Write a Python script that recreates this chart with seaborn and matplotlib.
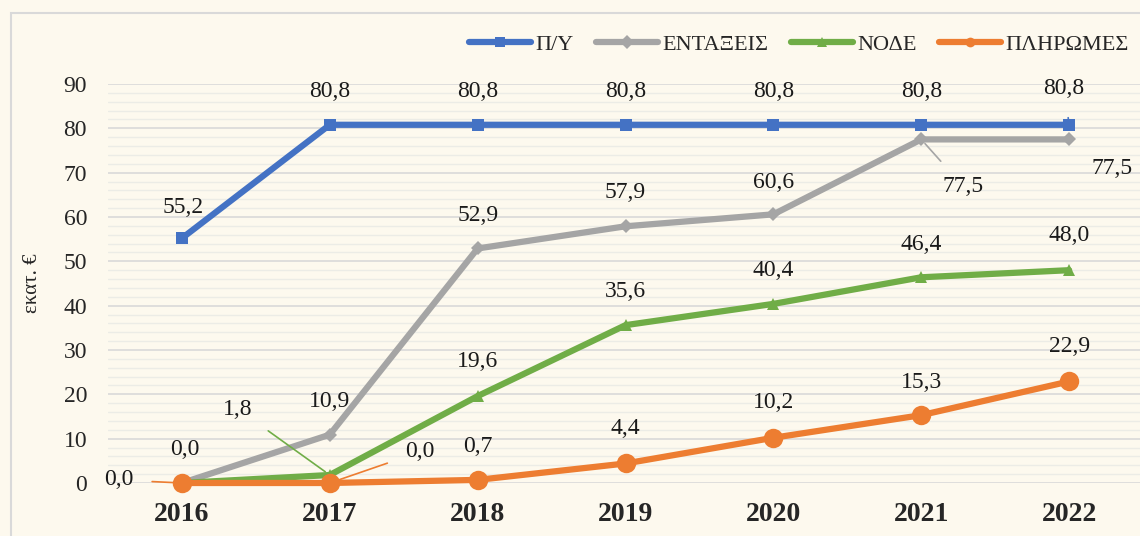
import matplotlib
matplotlib.use("Agg")
import matplotlib.pyplot as plt
import matplotlib.patches as patches
from matplotlib.ticker import MultipleLocator
import seaborn as sns

# Data (εκατ. €)
years = [2016, 2017, 2018, 2019, 2020, 2021, 2022]
py = [55.2, 80.8, 80.8, 80.8, 80.8, 80.8, 80.8]
entakseis = [0.0, 10.9, 52.9, 57.9, 60.6, 77.5, 77.5]
node = [0.0, 1.8, 19.6, 35.6, 40.4, 46.4, 48.0]
pliromes = [0.0, 0.0, 0.7, 4.4, 10.2, 15.3, 22.9]

series_names = ["Π/Υ", "ΕΝΤΑΞΕΙΣ", "ΝΟΔΕ", "ΠΛΗΡΩΜΕΣ"]
colors = ["#4472C4", "#A5A5A5", "#70AD47", "#ED7D31"]

bg = "#FDF9EE"
sns.set_theme(style="white")
plt.rcParams['font.family'] = ['Liberation Serif', 'DejaVu Serif']

fig = plt.figure(figsize=(11.4, 5.36), dpi=100, facecolor=bg)
ax = fig.add_axes([0.0947, 0.0989, 0.908, 0.7444])
ax.set_facecolor(bg)

# chart border
fig.patches.append(patches.Rectangle((11 / 1140, -0.05), 1.2, 1 - 13 / 536 + 0.05,
                                     transform=fig.transFigure, fill=False,
                                     edgecolor="#D9D9D9", linewidth=1.5))

styles = [
    dict(marker="s", markersize=9),
    dict(marker="D", markersize=7),
    dict(marker="^", markersize=9),
    dict(marker="o", markersize=14),
]
all_vals = [py, entakseis, node, pliromes]
for name, vals, col, st in zip(series_names, all_vals, colors, styles):
    sns.lineplot(x=years, y=vals, ax=ax, color=col, linewidth=4.5, label=name,
                 markeredgewidth=0, clip_on=False, zorder=3, **st)

ax.set_xlim(2015.5, 2022.5)
ax.set_ylim(0, 90)
ax.yaxis.set_major_locator(MultipleLocator(10))
ax.yaxis.set_minor_locator(MultipleLocator(2))
ax.grid(which="major", axis="y", color="#D9D9D9", linewidth=1.2, zorder=0)
ax.grid(which="minor", axis="y", color="#ECECE6", linewidth=1.0, zorder=0)
ax.set_axisbelow(True)
for s in ax.spines.values():
    s.set_visible(False)

ax.set_xticks(years)
ax.set_xticklabels([str(y) for y in years], fontsize=20, fontweight="bold")
ax.tick_params(axis="x", length=0, pad=14)
ax.tick_params(axis="y", which="both", length=0, pad=15, labelsize=17)
ax.set_ylabel("εκατ. €", fontsize=15)
ax.yaxis.set_label_coords(-0.064, 0.5)
ax.set_xlabel("")

# data labels (offsets in pixels)
def fmt(v):
    return f"{v:.1f}".replace(".", ",")

offsets = {
    0: [(1, 31), (0, 33), (0, 33), (0, 33), (0, 33), (0, 33), (-5, 36)],
    1: [(3, 33), (0, 33), (0, 33), (0, 34), (0, 32), (42, -47), (43, -29)],
    2: [None, (-92, 66), (0, 35), (0, 34), (0, 33), (0, 33), (0, 35)],
    3: [(-63, 3), (90, 31), (0, 33), (0, 35), (0, 35), (0, 33), (0, 35)],
}
leaders = {(0, 6), (1, 5), (2, 1), (3, 0), (3, 1)}
for si, vals in enumerate(all_vals):
    for yi, (yr, v) in enumerate(zip(years, vals)):
        off = offsets[si][yi]
        if off is None:
            continue
        arrow = None
        if (si, yi) in leaders:
            arrow = dict(arrowstyle="-", color=colors[si], linewidth=1.2,
                         shrinkA=11, shrinkB=4)
        ax.annotate(fmt(v), xy=(yr, v), xytext=off, textcoords="offset pixels",
                    ha="center", va="center", fontsize=17, color="#1a1a1a",
                    arrowprops=arrow, zorder=5, annotation_clip=False)

leg = ax.legend(loc="center", bbox_to_anchor=(799 / 1140, 1 - 45 / 536),
                bbox_transform=fig.transFigure, ncol=4, frameon=False,
                fontsize=16, handlelength=2.8, columnspacing=1.0, handletextpad=0.2)
for h in leg.legend_handles:
    h.set_markersize(7)

fig.savefig("out.png", dpi=100, facecolor=bg)
